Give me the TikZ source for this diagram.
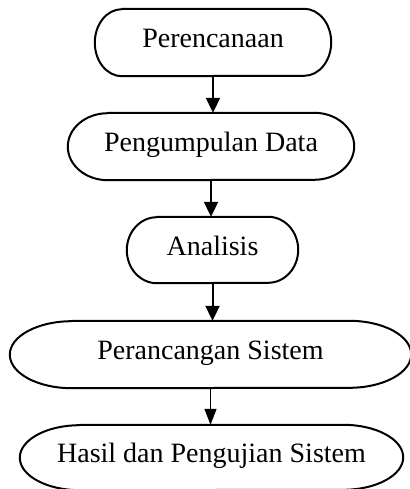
\documentclass[tikz,border=0pt]{standalone}
\usepackage{fontspec}
\setmainfont{Liberation Serif}
\usetikzlibrary{arrows.meta}
\newcommand\termoutline[3]{%
  \draw[outl] ([xshift=#2]#1.north west) -- ([xshift=-#2]#1.north east)
    arc[start angle=90,end angle=-90,x radius=#2,y radius=#3]
    -- ([xshift=#2]#1.south west)
    arc[start angle=270,end angle=90,x radius=#2,y radius=#3] -- cycle;}
\begin{document}
\begin{tikzpicture}[x=1pt,y=-1pt,
  term/.style={inner sep=0pt,font=\fontsize{28}{34}\selectfont,text height=18pt,text depth=8pt},
  outl/.style={line width=2pt,line join=round},
  flow/.style={line width=2pt,-{Triangle[length=15pt,width=14pt]}},
  thinflow/.style={line width=1.3pt,-{Triangle[length=16pt,width=12pt]}}]
\useasboundingbox (0,0) rectangle (409,489);
\node[term,minimum width=236pt,minimum height=67pt] (n1) at (213,42.5) {Perencanaan};
\node[term,minimum width=286pt,minimum height=67pt] (n2) at (211,146.5) {Pengumpulan Data};
\node[term,minimum width=171pt,minimum height=66pt] (n3) at (212.5,250) {Analisis};
\node[term,minimum width=401pt,minimum height=67pt] (n4) at (210.5,354.5) {Perancangan Sistem};
\node[term,minimum width=383pt,minimum height=65pt] (n5) at (211.5,457.5) {Hasil dan Pengujian Sistem};
\termoutline{n1}{27pt}{33.5pt}
\termoutline{n2}{40pt}{33.5pt}
\termoutline{n3}{30pt}{33pt}
\termoutline{n4}{62pt}{33.5pt}
\termoutline{n5}{60pt}{32.5pt}
\draw[flow] (n1.south) -- (n1.south |- n2.north);
\draw[flow] (n2.south) -- (n2.south |- n3.north);
\draw[flow] (n3.south) -- (n3.south |- n4.north);
\draw[thinflow] (n4.south) -- (n4.south |- n5.north);
\end{tikzpicture}
\end{document}
